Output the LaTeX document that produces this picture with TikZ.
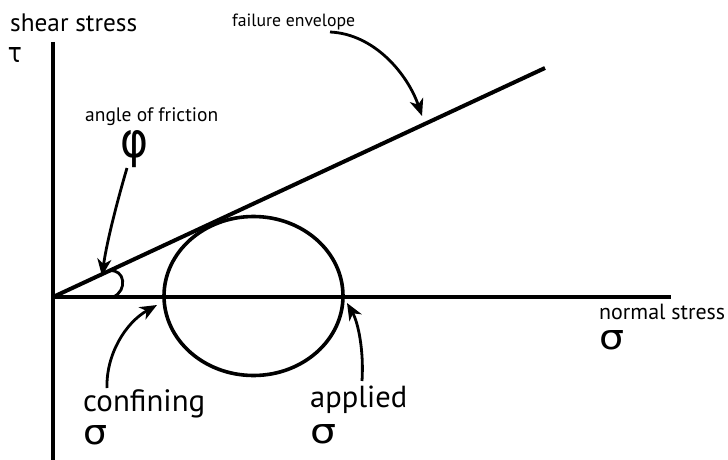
\documentclass[tikz,border=0pt]{standalone}
\usepackage{fontspec}
\setmainfont{PT Sans}
\newfontfamily\greekfont{DejaVu Sans}
\usetikzlibrary{arrows.meta}
\tikzset{
  axisline/.style={line width=4.2pt},
  envline/.style={line width=4pt},
  circline/.style={line width=3.6pt},
  callout/.style={line width=2.8pt,-{Stealth[length=17pt,width=14pt,inset=5pt]}},
  anglearc/.style={line width=2.8pt},
  lbl/.style={inner sep=0pt, anchor=base west},
  glyph/.style={inner sep=0pt, anchor=center}
}
\newcommand{\fitw}[2]{\resizebox{#1}{!}{#2}}
\newcommand{\fitwh}[3]{\resizebox{#1}{#2}{#3}}
\begin{document}
\begin{tikzpicture}[x=1pt,y=-1pt]
\useasboundingbox (0,0) rectangle (728,460);
% coordinates
\coordinate (O) at (53,297);
\coordinate (Ytop) at (53,42);
\coordinate (Ybot) at (53,460);
\coordinate (Xend) at (671,297);
\coordinate (E) at (545,68);
\coordinate (C) at (253.5,296);
% axes
\draw[axisline] (Ytop) -- (Ybot);
\draw[axisline] (O) -- (Xend);
% failure envelope
\draw[envline] (O) -- (E);
% Mohr circle
\draw[circline] (C) ellipse [x radius=89.5, y radius=79.5];
% angle arc
\coordinate (A1) at (109,271);
\coordinate (A2) at (113,297);
\draw[anglearc] (A1) .. controls (125,268) and (128,291) .. (A2);
% labels
\node[lbl] (shear) at (10,32) {\fitw{127pt}{shear stress}};
\node[glyph] (tau) at (15,55) {\greekfont\fitwh{14pt}{15pt}{τ}};
\node[lbl] (fail) at (232,27) {\fitw{123pt}{failure envelope}};
\node[lbl] (angle) at (85,121) {\fitw{133pt}{angle of friction}};
\node[glyph] (phi) at (135,149) {\greekfont\fitwh{28pt}{27pt}{φ}};
\node[lbl] (normal) at (599,319) {\fitw{126pt}{normal stress}};
\node[glyph] (sigN) at (612,340) {\greekfont\fitwh{25pt}{19pt}{σ}};
\node[lbl] (conf) at (83,411) {\fitw{122pt}{confining}};
\node[glyph] (sigC) at (95,435) {\greekfont\fitwh{24pt}{19pt}{σ}};
\node[lbl] (appl) at (310,407) {\fitw{97pt}{applied}};
\node[glyph] (sigA) at (323,434) {\greekfont\fitwh{26pt}{19pt}{σ}};
% arrow endpoints
\coordinate (fS) at (330,32);
\coordinate (fT) at (422,116);
\coordinate (aS) at (127,168);
\coordinate (aT) at (102,276);
\coordinate (cS) at (107,388);
\coordinate (cT) at (157,305);
\coordinate (pS) at (362,381);
\coordinate (pT) at (347,303);
% callout arrows
\draw[callout] (fS) .. controls (375,34) and (408,75) .. (fT);
\draw[callout] (aS) .. controls (119,195) and (107,240) .. (aT);
\draw[callout] (cS) .. controls (106,355) and (125,323) .. (cT);
\draw[callout] (pS) .. controls (364,350) and (358,322) .. (pT);
\end{tikzpicture}
\end{document}
